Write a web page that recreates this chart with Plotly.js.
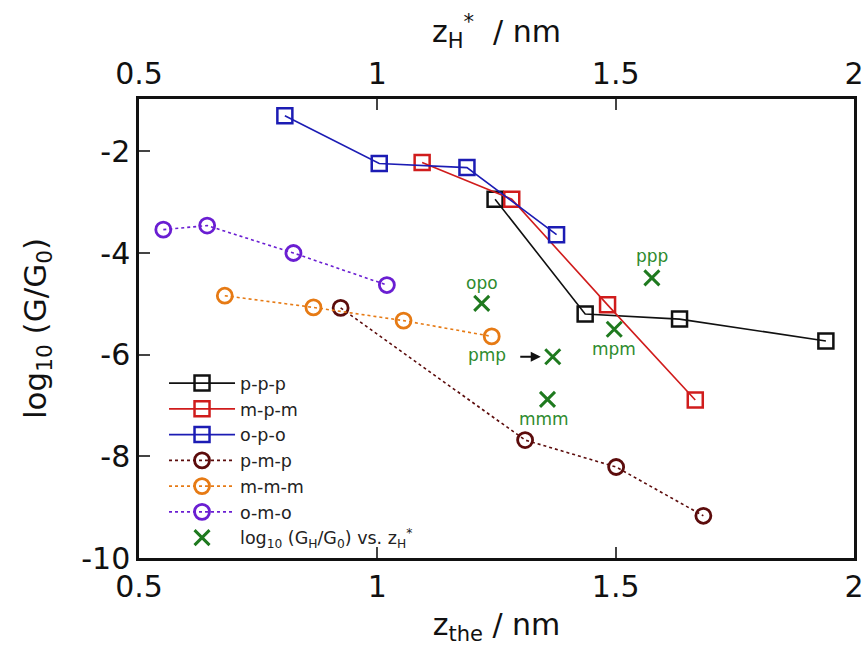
<!DOCTYPE html>
<html><head><meta charset="utf-8">
<script src="https://cdn.plot.ly/plotly-3.0.1.min.js"></script>
<style>body{margin:0;background:#fff}#c{width:866px;height:646px}</style>
</head><body><div id="c"></div>
<script>
// p-p-p
const pppX=[1.247,1.436,1.634,1.941], pppY=[-2.94,-5.20,-5.30,-5.73];
// m-p-m
const mpmX=[1.094,1.282,1.483,1.667], mpmY=[-2.22,-2.94,-5.02,-6.89];
// o-p-o
const opoX=[0.806,1.004,1.188,1.376], opoY=[-1.30,-2.24,-2.32,-3.64];
// p-m-p
const pmpX=[0.923,1.310,1.501,1.684], pmpY=[-5.08,-7.68,-8.21,-9.17];
// m-m-m
const mmmX=[0.680,0.866,1.055,1.240], mmmY=[-4.84,-5.07,-5.33,-5.64];
// o-m-o
const omoX=[0.551,0.643,0.824,1.020], omoY=[-3.54,-3.46,-4.00,-4.63];
// log10(GH/G0) vs zH*
const hNames=['opo','ppp','mpm','pmp','mmm'];
const hX=[1.219,1.576,1.497,1.368,1.357], hY=[-4.99,-4.49,-5.50,-6.04,-6.88];
const xTicks=[0.5,1,1.5,2], yTicks=[-10,-8,-6,-4,-2];

const F='DejaVu Sans, Verdana, sans-serif';
function sq(x,y,name,col){return {x,y,name,type:'scatter',mode:'lines+markers',
 line:{color:col,width:1.6},marker:{symbol:'square-open',size:15,color:col,line:{width:2.5,color:col}}};}
function ci(x,y,name,col){return {x,y,name,type:'scatter',mode:'lines+markers',
 line:{color:col,width:1.6,dash:'dot'},marker:{symbol:'circle-open',size:15,color:col,line:{width:2.8,color:col}}};}
const green='#1f7a1f';
const data=[
 sq(pppX,pppY,'p-p-p','#111111'),
 sq(mpmX,mpmY,'m-p-m','#d01c1c'),
 sq(opoX,opoY,'o-p-o','#1c1cb4'),
 ci(pmpX,pmpY,'p-m-p','#5c0c0c'),
 ci(mmmX,mmmY,'m-m-m','#e67a14'),
 ci(omoX,omoY,'o-m-o','#6a1ed2'),
 {x:hX,y:hY,xaxis:'x2',name:'log<sub>10</sub> (G<sub>H</sub>/G<sub>0</sub>) vs. z<sub>H</sub><sup>*</sup>',type:'scatter',mode:'markers',
  marker:{symbol:'x-thin',size:15,color:green,line:{width:3,color:green}}}
];
// label placement offsets (pixels)
const lblDX=[0,0,0,-66,-4], lblDY=[20,22,-20,2,-20];
const ann=hNames.map((n,i)=>({x:hX[i],y:hY[i],xref:'x2',yref:'y',text:n,showarrow:false,
 xshift:lblDX[i],yshift:lblDY[i],font:{family:F,size:17,color:'#2e8b2e'}}));
ann.push({x:hX[3],y:hY[3],xref:'x2',yref:'y',text:'',showarrow:true,ax:-34,ay:0,
 arrowhead:2,arrowsize:1,arrowwidth:2,arrowcolor:'#111',standoff:12});
const layout={
 width:866,height:646,paper_bgcolor:'#fff',plot_bgcolor:'#fff',
 margin:{l:139,r:12,t:99,b:88},
 font:{family:F,color:'#111'},
 showlegend:true,
 legend:{x:0.035,y:0.42,xanchor:'left',yanchor:'top',bgcolor:'rgba(0,0,0,0)',
  font:{family:F,size:17.5,color:'#222'},itemwidth:66,tracegroupgap:0},
 xaxis:{range:[0.5,2],tickvals:xTicks,ticktext:xTicks.map(String),ticks:'inside',ticklen:11,tickwidth:2,
  showline:true,mirror:true,linewidth:2.5,linecolor:'#111',showgrid:false,zeroline:false,
  tickfont:{family:F,size:30,color:'#111'},
  title:{text:'z<sub>the</sub> / nm',font:{family:F,size:30,color:'#111'},standoff:14}},
 xaxis2:{range:[0.5,2],overlaying:'x',side:'top',tickvals:xTicks,ticktext:xTicks.map(String),ticks:'inside',ticklen:11,tickwidth:2,
  showline:false,showgrid:false,zeroline:false,ticklabelstandoff:8,
  tickfont:{family:F,size:30,color:'#111'},
  title:{text:'z<sub>H</sub><sup>*</sup>  / nm',font:{family:F,size:30,color:'#111'},standoff:4}},
 yaxis:{range:[-10,-0.97],tickvals:yTicks,ticktext:yTicks.map(String),ticks:'inside',ticklen:11,tickwidth:2,
  showline:true,mirror:true,linewidth:2.5,linecolor:'#111',showgrid:false,zeroline:false,
  tickfont:{family:F,size:30,color:'#111'},
  title:{text:'log<sub>10</sub> (G/G<sub>0</sub>)',font:{family:F,size:31,color:'#111'},standoff:26}},
 annotations:ann
};
Plotly.newPlot('c',data,layout,{displayModeBar:false});
</script></body></html>
